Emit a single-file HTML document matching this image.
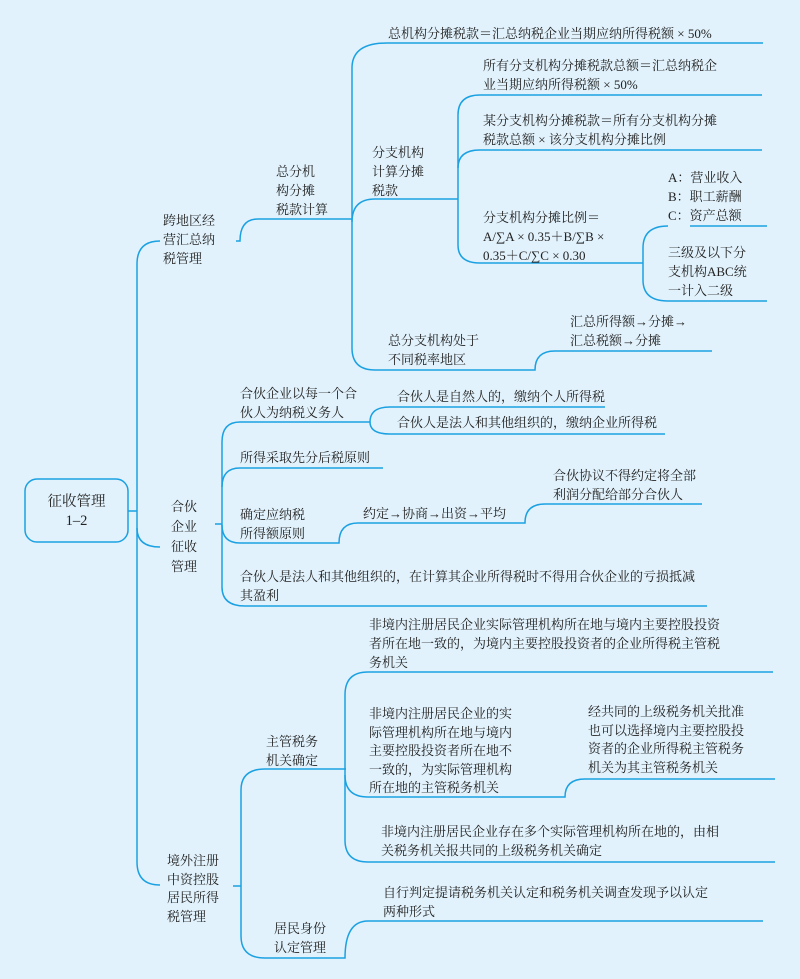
<!DOCTYPE html>
<html><head><meta charset="utf-8"><style>
html,body{margin:0;padding:0}
body{width:800px;height:979px;background:#e1f2fc;position:relative;overflow:hidden;font-family:"Liberation Serif","Noto Serif CJK SC","Noto Sans CJK SC",serif;color:#222;font-size:13px}
.t{position:absolute;white-space:nowrap;line-height:19px}
svg{position:absolute;left:0;top:0}
</style></head><body>
<svg width="800" height="979" fill="none" stroke="#1ba1e2" stroke-width="1.5">
<rect x="25" y="479" width="103" height="63" rx="12"/>
<path d="M128 511H137"/>
<path d="M160 241Q137 241 137 264V862Q137 885 160 885"/>
<path d="M137 528Q137 547 160 547"/>
<path d="M236 241H240Q240 219 258 219H352"/>
<path d="M215 524H222"/>
<path d="M233 886H241"/>
<path d="M387 43H763"/>
<path d="M387 43Q352 43 352 68V348Q352 370 375 370H535Q535 351 555 351H712"/>
<path d="M352 222Q352 199 375 199H458"/>
<path d="M480 95H762"/>
<path d="M480 95Q458 95 458 115V245Q458 263 480 263H643"/>
<path d="M458 168Q458 150 480 150H762"/>
<path d="M690 226H767"/>
<path d="M668 226Q643 226 643 248V280Q643 301 668 301H767"/>
<path d="M240 422Q222 422 222 442V587Q222 606 245 606H707"/>
<path d="M222 487Q222 468 240 468H383"/>
<path d="M222 525Q222 543 240 543H339Q339 523 358 523H525Q525 504 545 504H702"/>
<path d="M240 422H370Q370 407 390 407H605"/>
<path d="M370 422Q370 434 390 434H665"/>
<path d="M265 769Q241 769 241 790V936Q241 958 265 958H345Q345 921 368 921H763"/>
<path d="M265 769H346"/>
<path d="M368 672H773"/>
<path d="M368 672Q345 672 345 695V840Q345 862 368 862H775"/>
<path d="M345 775Q345 797 368 797H565Q565 779 585 779H775"/>
</svg>

<div class="t" style="left:25px;width:103px;text-align:center;top:493px;font-size:14.5px">征收管理<br>1–2</div>

<div class="t" style="left:163px;top:211px">跨地区经<br>营汇总纳<br>税管理</div>
<div class="t" style="left:276px;top:162px">总分机<br>构分摊<br>税款计算</div>
<div class="t" style="left:388px;top:24px">总机构分摊税款＝汇总纳税企业当期应纳所得税额 × 50%</div>
<div class="t" style="left:372px;top:143px">分支机构<br>计算分摊<br>税款</div>
<div class="t" style="left:483px;top:56px">所有分支机构分摊税款总额＝汇总纳税企<br>业当期应纳所得税额 × 50%</div>
<div class="t" style="left:483px;top:111px">某分支机构分摊税款＝所有分支机构分摊<br>税款总额 × 该分支机构分摊比例</div>
<div class="t" style="left:483px;top:208px">分支机构分摊比例＝<br>A/∑A × 0.35＋B/∑B ×<br>0.35＋C/∑C × 0.30</div>
<div class="t" style="left:668px;top:168px">A：营业收入<br>B：职工薪酬<br>C：资产总额</div>
<div class="t" style="left:668px;top:243px">三级及以下分<br>支机构ABC统<br>一计入二级</div>
<div class="t" style="left:388px;top:331px">总分支机构处于<br>不同税率地区</div>
<div class="t" style="left:570px;top:312px">汇总所得额→分摊→<br>汇总税额→分摊</div>

<div class="t" style="left:171px;top:497px;line-height:20px">合伙<br>企业<br>征收<br>管理</div>
<div class="t" style="left:240px;top:384px">合伙企业以每一个合<br>伙人为纳税义务人</div>
<div class="t" style="left:397px;top:387px">合伙人是自然人的，缴纳个人所得税</div>
<div class="t" style="left:397px;top:413px">合伙人是法人和其他组织的，缴纳企业所得税</div>
<div class="t" style="left:240px;top:448px">所得采取先分后税原则</div>
<div class="t" style="left:240px;top:505px">确定应纳税<br>所得额原则</div>
<div class="t" style="left:363px;top:504px">约定→协商→出资→平均</div>
<div class="t" style="left:553px;top:466px">合伙协议不得约定将全部<br>利润分配给部分合伙人</div>
<div class="t" style="left:240px;top:567px">合伙人是法人和其他组织的，在计算其企业所得税时不得用合伙企业的亏损抵减<br>其盈利</div>

<div class="t" style="left:167px;top:852px;line-height:18.7px">境外注册<br>中资控股<br>居民所得<br>税管理</div>
<div class="t" style="left:266px;top:732px">主管税务<br>机关确定</div>
<div class="t" style="left:274px;top:919px">居民身份<br>认定管理</div>
<div class="t" style="left:369px;top:615px">非境内注册居民企业实际管理机构所在地与境内主要控股投资<br>者所在地一致的，为境内主要控股投资者的企业所得税主管税<br>务机关</div>
<div class="t" style="left:369px;top:705px;line-height:18.6px">非境内注册居民企业的实<br>际管理机构所在地与境内<br>主要控股投资者所在地不<br>一致的，为实际管理机构<br>所在地的主管税务机关</div>
<div class="t" style="left:588px;top:703px;line-height:18.5px">经共同的上级税务机关批准<br>也可以选择境内主要控股投<br>资者的企业所得税主管税务<br>机关为其主管税务机关</div>
<div class="t" style="left:381px;top:822px">非境内注册居民企业存在多个实际管理机构所在地的，由相<br>关税务机关报共同的上级税务机关确定</div>
<div class="t" style="left:383px;top:883px">自行判定提请税务机关认定和税务机关调查发现予以认定<br>两种形式</div>
</body></html>
